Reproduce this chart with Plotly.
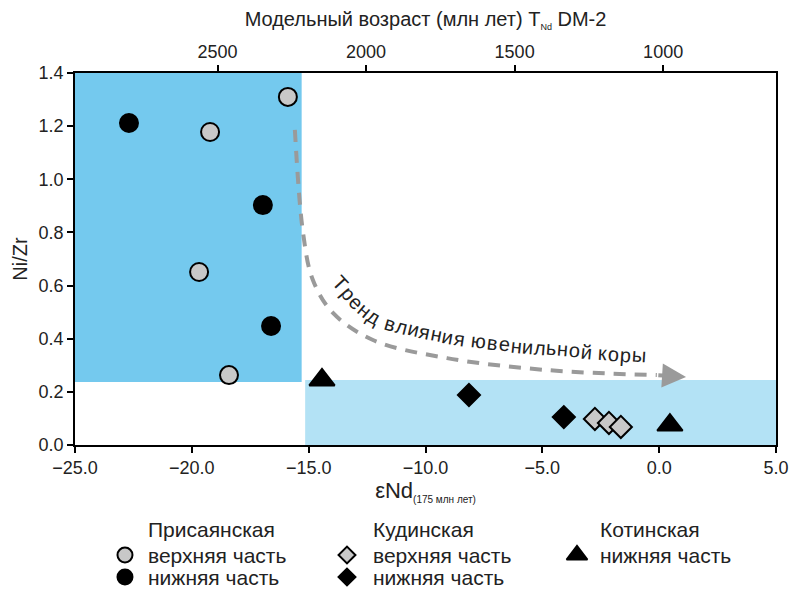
import math
import plotly.graph_objects as go

# ---------------- data ----------------
pris_up_x = [-15.89, -19.22, -19.69, -18.41]
pris_up_y = [1.31, 1.178, 0.651, 0.263]
pris_lo_x = [-22.69, -16.96, -16.61]
pris_lo_y = [1.212, 0.903, 0.448]
kud_up_x = [-2.75, -2.15, -1.64]
kud_up_y = [0.098, 0.083, 0.068]
kud_lo_x = [-8.14, -4.08]
kud_lo_y = [0.188, 0.105]
kot_lo_x = [-14.43, 0.46]
kot_lo_y = [0.245, 0.075]

# fields (x0, x1, y0, y1)
old_field = [-25.0, -15.3, 0.237, 1.4]
juv_field = [-15.15, 5.0, 0.0, 0.245]

# trend curve (guide)
trend_x = [-15.59, -15.24, -14.82, -13.96, -12.25, -9.08, -4.80, -0.10]
trend_y = [1.186, 0.798, 0.621, 0.497, 0.395, 0.327, 0.282, 0.263]
arrow_tip = [1.15, 0.256]

# label path for the curved text (data coordinates)
label_path_x = [-13.86, -13.65, -13.18, -12.50, -11.77, -10.27, -8.77, -8.13, -5.99, -3.72, -3.12, -0.55]
label_path_y = [0.625, 0.609, 0.557, 0.497, 0.463, 0.429, 0.403, 0.395, 0.373, 0.357, 0.350, 0.335]
trend_text = "Тренд влияния ювенильной коры"

x_ticks = [-25, -20, -15, -10, -5, 0, 5]
y_ticks = [0, 0.2, 0.4, 0.6, 0.8, 1.0, 1.2, 1.4]
age_ticks = [2500, 2000, 1500, 1000]
age_range = [2980, 620]

X_RANGE = [-25, 5]
Y_RANGE = [0, 1.4]

FONT = "Liberation Sans, Arial, sans-serif"
GRAY = "#C8C8C8"
DARKBLUE = "#74C9EE"
LIGHTBLUE = "#B3E2F5"
ARROWGRAY = "#9A9A9A"
TXT = "#222222"

# figure geometry
W, H = 792, 590
ML, MR, MT, MB = 75, 16, 73, 0
PLOT_W = W - ML - MR
PLOT_H = H - MT - MB
MAIN_DOM = [145 / PLOT_H, 1.0]
MAIN_H = PLOT_H * (MAIN_DOM[1] - MAIN_DOM[0])
LEG_DOM = [0, 0.2]
LEG_H = PLOT_H * (LEG_DOM[1] - LEG_DOM[0])

fig = go.Figure()

# trend dashed curve
fig.add_trace(go.Scatter(x=trend_x, y=trend_y, mode="lines",
                         line=dict(color=ARROWGRAY, width=4, dash="12px,9px", shape="spline"),
                         hoverinfo="skip", showlegend=False))

def mk(symbol, fill, size):
    return dict(symbol=symbol, color=fill, size=size, line=dict(color="black", width=2))

fig.add_trace(go.Scatter(x=pris_up_x, y=pris_up_y, mode="markers", marker=mk("circle", GRAY, 18), showlegend=False))
fig.add_trace(go.Scatter(x=pris_lo_x, y=pris_lo_y, mode="markers", marker=mk("circle", "black", 18), showlegend=False))
fig.add_trace(go.Scatter(x=kud_up_x, y=kud_up_y, mode="markers", marker=mk("diamond", GRAY, 17), showlegend=False))
fig.add_trace(go.Scatter(x=kud_lo_x, y=kud_lo_y, mode="markers", marker=mk("diamond", "black", 17), showlegend=False))
fig.add_trace(go.Scatter(x=kot_lo_x, y=kot_lo_y, mode="markers", marker=mk("triangle-up", "black", 22), showlegend=False))

# invisible trace for top axis
fig.add_trace(go.Scatter(x=age_range, y=[None, None], xaxis="x2", yaxis="y", mode="markers",
                         showlegend=False, hoverinfo="skip"))

# ---------------- custom legend ----------------
leg_groups = ["Присаянская", "Кудинская", "Котинская"]
leg_items = [
    ("верхняя часть", "circle", GRAY, 15, 0, 0),
    ("нижняя часть", "circle", "black", 15, 0, 1),
    ("верхняя часть", "diamond", GRAY, 13, 1, 0),
    ("нижняя часть", "diamond", "black", 13, 1, 1),
    ("нижняя часть", "triangle-up", "black", 18, 2, 0),
]
col_sym_x = [0.0713, 0.388, 0.7161]
col_txt_x = [0.1013, 0.4223, 0.7462]
row_px = [555, 577]      # screen rows of legend items
title_px = 529
row_y = [(H - p) / LEG_H for p in row_px]
title_y = (H - title_px) / LEG_H

for label, sym, fill, size, col, row in leg_items:
    fig.add_trace(go.Scatter(x=[col_sym_x[col]], y=[row_y[row]], xaxis="x3", yaxis="y3",
                             mode="markers", marker=dict(symbol=sym, color=fill, size=size,
                                                         line=dict(color="black", width=2)),
                             cliponaxis=False, showlegend=False, hoverinfo="skip"))

annotations = []
for i, g in enumerate(leg_groups):
    annotations.append(dict(x=col_txt_x[i], y=title_y, xref="x3", yref="y3", text=g,
                            showarrow=False, xanchor="left", yanchor="middle",
                            font=dict(family=FONT, size=21, color=TXT)))
for label, sym, fill, size, col, row in leg_items:
    annotations.append(dict(x=col_txt_x[col], y=row_y[row], xref="x3", yref="y3", text=label,
                            showarrow=False, xanchor="left", yanchor="middle",
                            font=dict(family=FONT, size=21, color=TXT)))

# ---------------- curved trend label (char by char along path) ----------------
def to_px(x, y):
    px = (x - X_RANGE[0]) / (X_RANGE[1] - X_RANGE[0]) * PLOT_W
    py = (Y_RANGE[1] - y) / (Y_RANGE[1] - Y_RANGE[0]) * MAIN_H
    return px, py

def to_data(px, py):
    x = X_RANGE[0] + px / PLOT_W * (X_RANGE[1] - X_RANGE[0])
    y = Y_RANGE[1] - py / MAIN_H * (Y_RANGE[1] - Y_RANGE[0])
    return x, y

CHAR_W = {"Т": .611, "р": .556, "е": .556, "н": .547, "д": .573, " ": .278, "в": .531,
          "л": .552, "и": .556, "я": .538, "ю": .760, "ь": .521, "о": .556, "й": .556,
          "к": .438, "ы": .711}
LBL_SIZE = 20
pts = [to_px(a, b) for a, b in zip(label_path_x, label_path_y)]
cum = [0.0]
for i in range(1, len(pts)):
    cum.append(cum[-1] + math.dist(pts[i - 1], pts[i]))

def point_at(s):
    s = max(0.0, min(s, cum[-1]))
    for i in range(1, len(pts)):
        if s <= cum[i] or i == len(pts) - 1:
            seg = cum[i] - cum[i - 1]
            t = (s - cum[i - 1]) / seg if seg else 0
            return (pts[i - 1][0] + t * (pts[i][0] - pts[i - 1][0]),
                    pts[i - 1][1] + t * (pts[i][1] - pts[i - 1][1]))

total = sum(CHAR_W[c] for c in trend_text) * LBL_SIZE
scale = cum[-1] / total
s = 0.0
for ch in trend_text:
    w = CHAR_W[ch] * LBL_SIZE * scale
    sc = s + w / 2
    s += w
    if ch == " ":
        continue
    cx, cy = point_at(sc)
    a0 = point_at(sc - 10)
    a1 = point_at(sc + 10)
    ang = math.degrees(math.atan2(a1[1] - a0[1], a1[0] - a0[0]))
    dx, dy = to_data(cx, cy)
    annotations.append(dict(x=dx, y=dy, xref="x", yref="y", text=ch, showarrow=False,
                            textangle=ang, xanchor="center", yanchor="middle",
                            font=dict(family=FONT, size=LBL_SIZE, color=TXT)))

# arrow head
annotations.append(dict(x=arrow_tip[0], y=arrow_tip[1], ax=trend_x[-1], ay=trend_y[-1],
                        xref="x", yref="y", axref="x", ayref="y", text="", showarrow=True,
                        arrowhead=2, arrowsize=1.2, arrowwidth=4, arrowcolor=ARROWGRAY, standoff=0))

shapes = [
    dict(type="rect", xref="x", yref="y", x0=old_field[0], x1=old_field[1], y0=old_field[2], y1=old_field[3],
         fillcolor=DARKBLUE, line=dict(width=0), layer="below"),
    dict(type="rect", xref="x", yref="y", x0=juv_field[0], x1=juv_field[1], y0=juv_field[2], y1=juv_field[3],
         fillcolor=LIGHTBLUE, line=dict(width=0), layer="below"),
]

axis_common = dict(showgrid=False, zeroline=False, showline=True, linecolor="black", linewidth=1.5,
                   ticks="outside", ticklen=6, tickwidth=1.5, tickcolor="black", automargin=False,
                   tickfont=dict(family=FONT, size=18, color=TXT))

fig.update_layout(
    width=W, height=H,
    margin=dict(l=ML, r=MR, t=MT, b=MB),
    plot_bgcolor="white", paper_bgcolor="white",
    font=dict(family=FONT, color=TXT),
    xaxis=dict(range=X_RANGE, tickvals=x_ticks, tickformat=".1f", mirror=True,
               title=dict(text="εNd<sub><span style='font-size:10px'>(175 млн лет)</span></sub>",
                          font=dict(family=FONT, size=22, color=TXT), standoff=4),
               anchor="y", **axis_common),
    xaxis2=dict(range=age_range, tickvals=age_ticks, overlaying="x", side="top", anchor="y",
                title=dict(text="Модельный возраст (млн лет) T<sub><span style='font-size:9px'>Nd</span></sub> DM-2",
                           font=dict(family=FONT, size=20, color=TXT), standoff=10),
                **axis_common),
    yaxis=dict(range=Y_RANGE, tickvals=y_ticks, tickformat=".1f", mirror=True, domain=MAIN_DOM,
               title=dict(text="Ni/Zr", font=dict(family=FONT, size=20, color=TXT), standoff=6),
               **axis_common),
    xaxis3=dict(domain=[0, 1], range=[0, 1], anchor="y3", visible=False, fixedrange=True),
    yaxis3=dict(domain=LEG_DOM, range=[0, 1], anchor="x3", visible=False, fixedrange=True),
    shapes=shapes,
    annotations=annotations,
)

fig.write_html("out.html", config={"displayModeBar": False},
               post_script="document.body.style.margin='0';document.body.style.overflow='hidden';")
